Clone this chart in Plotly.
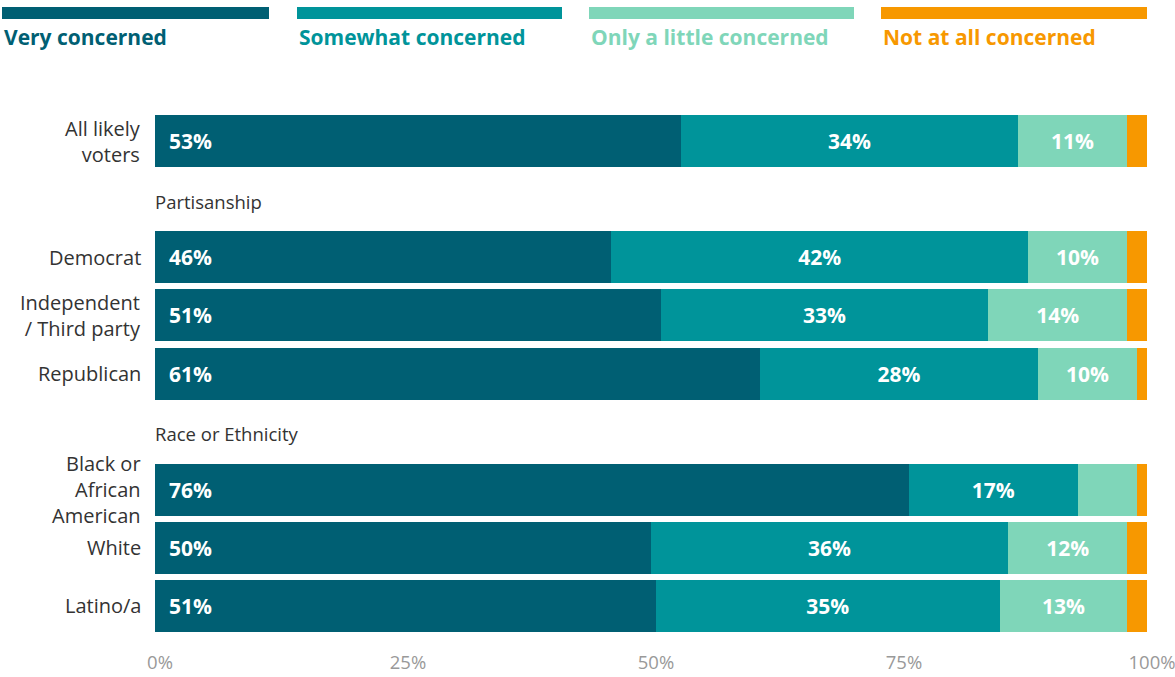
import plotly.graph_objects as go

# ---- data ----
groups = ["All likely<br>voters", "Democrat", "Independent<br>/ Third party", "Republican",
          "Black or<br>African<br>American", "White", "Latino/a"]
row_order = ["All likely<br>voters", "hdr_party", "Democrat", "Independent<br>/ Third party",
             "Republican", "hdr_race", "Black or<br>African<br>American", "White", "Latino/a"]
headers = {"hdr_party": "Partisanship", "hdr_race": "Race or Ethnicity"}

very = [53, 46, 51, 61, 76, 50, 51]
somewhat = [34, 42, 33, 28, 17, 36, 35]
little = [11, 10, 14, 10, 6, 12, 13]
not_at_all = [2, 2, 2, 1, 1, 2, 2]

series_names = ["Very concerned", "Somewhat concerned", "Only a little concerned", "Not at all concerned"]
series_values = [very, somewhat, little, not_at_all]
colors = ["#005f73", "#00949a", "#7fd6b9", "#f79800"]

x_ticks = [0, 25, 50, 75, 100]
x_tick_labels = ["0%", "25%", "50%", "75%", "100%"]

FONT = "Open Sans"
W, H = 1175, 677
ML, MR, MT, MB = 155, 28, 112, 42
PW = W - ML - MR
PH = H - MT - MB

fig = go.Figure()
for i, (name, vals, col) in enumerate(zip(series_names, series_values, colors)):
    if i == 0:
        texts = ["\u00a0\u00a0" + f"{v}%" for v in vals]
        anchor = "start"
    elif i == 3:
        texts = ["" for v in vals]
        anchor = "middle"
    else:
        texts = [f"{v}%" if v >= 8 else "" for v in vals]
        anchor = "middle"
    fig.add_trace(go.Bar(
        y=groups, x=vals, name=name, orientation="h",
        marker=dict(color=col, line=dict(width=0)),
        text=texts, textposition="inside", insidetextanchor=anchor,
        textfont=dict(family=FONT, size=21, color="white", weight="bold"),
        constraintext="none", showlegend=False, hoverinfo="skip",
    ))

ann = []
# legend: colored strips with labels above the plot
leg_left = [2, 297, 589, 881]
leg_right = [269, 562, 854, 1147]
for k, (name, col) in enumerate(zip(series_names, colors)):
    x0 = (leg_left[k] - ML) / PW
    x1 = (leg_right[k] - ML) / PW
    y0 = (H - MB - 19) / PH
    y1 = (H - MB - 7) / PH
    fig.add_shape(type="rect", xref="paper", yref="paper", x0=x0, x1=x1, y0=y0, y1=y1,
                  line=dict(width=0), fillcolor=col)
    ann.append(dict(xref="paper", yref="paper", x=x0, y=(H - MB - 37) / PH,
                    xanchor="left", yanchor="middle", showarrow=False, text=f"<b>{name}</b>",
                    font=dict(family=FONT, size=21, color=col)))

# section headers
for key, label in headers.items():
    ann.append(dict(xref="x", yref="y", x=0, y=key, xanchor="left", yanchor="middle",
                    xshift=-2, yshift=-2,
                    showarrow=False, text=label, font=dict(family=FONT, size=18.5, color="#333333")))

# category labels
for g in groups:
    ann.append(dict(xref="paper", yref="y", x=0, y=g, xanchor="right", yanchor="middle",
                    xshift=-12, align="right", showarrow=False, text=g,
                    font=dict(family=FONT, size=20, color="#333333")))

fig.update_layout(
    width=W, height=H,
    margin=dict(l=ML, r=MR, t=MT, b=MB),
    barmode="stack", barnorm="percent", bargap=0.105,
    plot_bgcolor="white", paper_bgcolor="white",
    annotations=ann,
    font=dict(family=FONT),
)
fig.update_xaxes(range=[0, 100], tickvals=x_ticks, ticktext=x_tick_labels,
                 showgrid=False, zeroline=False, showline=False, automargin=False,
                 ticks="outside", ticklen=11, tickcolor="rgba(0,0,0,0)",
                 ticklabelshift=5, ticklabeloverflow="allow",
                 tickfont=dict(family=FONT, size=18.5, color="#999999"))
fig.update_yaxes(type="category", categoryorder="array", categoryarray=row_order,
                 showticklabels=False, automargin=False,
                 autorange="reversed", showgrid=False, zeroline=False, showline=False)

fig.write_html("out.html")
